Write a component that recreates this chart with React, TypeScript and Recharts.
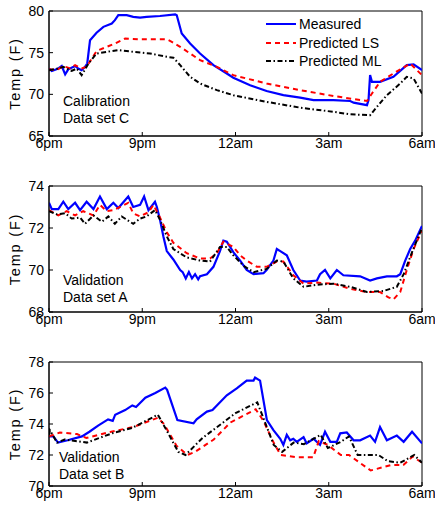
import React from 'react';
import { LineChart, Line, XAxis, YAxis, Legend, ReferenceArea } from 'recharts';

// hours after 6pm, temperature (F)
const timeTicks = [0, 3, 6, 9, 12];
const timeLabels = ['6pm', '9pm', '12am', '3am', '6am'];

const calMeasured: [number, number][] = [
  [0, 73.1], [0.09, 72.8], [0.3, 73.1], [0.41, 73.4], [0.52, 72.4], [0.62, 73.0], [0.84, 73.4],
  [0.94, 73.1], [1.05, 72.9], [1.16, 73.3], [1.23, 73.7], [1.32, 76.5], [1.53, 77.4], [1.75, 78.1],
  [2.02, 78.5], [2.12, 78.9], [2.23, 79.5], [2.5, 79.5], [2.71, 79.3], [2.93, 79.2], [3.14, 79.3],
  [3.57, 79.4], [4.06, 79.6], [4.11, 79.5], [4.27, 77.3], [4.54, 76.1], [4.86, 74.9], [5.29, 73.5],
  [5.72, 72.5], [5.93, 72.0], [6.47, 71.1], [7.0, 70.4], [7.54, 69.9], [8.08, 69.6], [8.51, 69.3],
  [9.15, 69.3], [9.69, 69.2], [9.8, 69.0], [10.23, 68.7], [10.28, 69.3], [10.33, 72.3], [10.39, 71.5],
  [10.65, 71.5], [11.08, 72.1], [11.51, 73.5], [11.73, 73.6], [12, 72.9],
];
const calLS: [number, number][] = [
  [0, 73.0], [0.25, 72.9], [0.46, 73.4], [0.68, 73.1], [0.84, 73.5], [1.05, 73.1], [1.21, 73.3],
  [1.53, 75.2], [1.86, 75.7], [2.12, 76.1], [2.45, 76.7], [2.93, 76.6], [3.79, 76.6], [3.95, 76.3],
  [4.22, 75.7], [4.54, 74.9], [4.86, 74.1], [5.4, 73.3], [5.93, 72.3], [7.0, 71.3], [8.08, 70.5],
  [9.15, 69.8], [10.23, 69.2], [10.39, 70.1], [10.65, 71.5], [11.08, 72.5], [11.62, 73.7], [12, 72.3],
];
const calML: [number, number][] = [
  [0, 72.9], [0.3, 73.1], [0.46, 73.3], [0.73, 72.8], [0.89, 73.1], [1.05, 72.3], [1.27, 73.7],
  [1.53, 74.9], [1.86, 75.1], [2.23, 75.3], [2.71, 75.1], [3.25, 74.9], [3.79, 74.5], [4.0, 74.4],
  [4.22, 73.5], [4.54, 72.1], [4.86, 71.3], [5.4, 70.5], [5.93, 69.9], [7.0, 69.1], [8.08, 68.4],
  [9.15, 67.9], [9.69, 67.6], [10.33, 67.5], [10.55, 68.5], [10.87, 69.9], [11.3, 71.3], [11.51, 72.1],
  [11.73, 71.9], [12, 70.1],
];

const valAMeasured: [number, number][] = [
  [0, 73.2], [0.09, 72.9], [0.3, 72.9], [0.46, 73.25], [0.62, 72.9], [0.84, 73.2], [1.0, 72.85],
  [1.21, 73.25], [1.43, 72.9], [1.64, 73.5], [1.86, 72.9], [2.07, 73.2], [2.23, 72.95], [2.55, 73.5],
  [2.71, 73.0], [2.93, 73.1], [3.06, 73.5], [3.2, 72.85], [3.41, 73.25], [3.47, 73.0], [3.57, 72.4],
  [3.68, 71.6], [3.79, 70.9], [4.0, 70.5], [4.22, 70.0], [4.3, 69.9], [4.4, 69.6], [4.5, 69.9],
  [4.6, 69.6], [4.7, 69.8], [4.8, 69.55], [4.86, 69.7], [5.08, 69.8], [5.29, 70.15], [5.5, 70.9],
  [5.61, 71.4], [5.72, 71.35], [5.93, 70.85], [6.15, 70.45], [6.36, 70.0], [6.58, 69.8], [6.9, 69.85],
  [7.0, 70.0], [7.22, 70.45], [7.33, 71.0], [7.44, 70.9], [7.65, 70.7], [7.86, 70.0], [8.08, 69.5],
  [8.29, 69.45], [8.62, 69.5], [8.72, 69.8], [8.88, 70.0], [9.05, 69.6], [9.26, 70.0], [9.47, 69.75],
  [10.01, 69.7], [10.33, 69.5], [10.55, 69.6], [10.87, 69.7], [11.19, 69.7], [11.3, 69.8],
  [11.46, 70.45], [11.62, 71.0], [11.78, 71.4], [12, 72.1],
];
const valALS: [number, number][] = [
  [0, 72.85], [0.3, 72.6], [0.57, 72.8], [0.84, 72.6], [1.1, 72.8], [1.43, 72.6], [1.64, 73.1],
  [1.86, 72.8], [2.07, 72.85], [2.28, 73.0], [2.55, 73.2], [2.71, 72.7], [2.93, 72.55], [3.2, 72.75],
  [3.36, 73.1], [3.57, 72.5], [3.79, 71.8], [4.0, 71.3], [4.43, 70.8], [4.86, 70.55], [5.18, 70.55],
  [5.4, 70.8], [5.61, 71.35], [5.93, 71.1], [6.15, 70.7], [6.36, 70.45], [6.69, 70.15], [7.0, 70.15],
  [7.33, 70.4], [7.54, 70.4], [7.86, 69.75], [8.19, 69.35], [8.62, 69.4], [9.15, 69.35], [9.69, 69.1],
  [10.23, 68.95], [10.65, 68.95], [10.92, 68.7], [11.08, 68.6], [11.3, 68.95], [11.51, 70.0],
  [11.73, 71.0], [12, 71.9],
];
const valAML: [number, number][] = [
  [0, 72.8], [0.25, 72.65], [0.52, 72.7], [0.73, 72.45], [1.0, 72.5], [1.16, 72.2], [1.43, 72.6],
  [1.7, 72.3], [1.91, 72.55], [2.12, 72.2], [2.34, 72.55], [2.71, 72.2], [2.93, 72.45], [3.14, 72.55],
  [3.41, 72.85], [3.57, 72.4], [3.79, 71.6], [4.0, 71.0], [4.43, 70.6], [4.86, 70.45], [5.18, 70.4],
  [5.5, 71.1], [5.72, 71.1], [5.93, 70.7], [6.26, 70.2], [6.58, 69.9], [7.0, 70.05], [7.33, 70.45],
  [7.54, 70.4], [7.86, 69.6], [8.19, 69.2], [8.62, 69.3], [9.15, 69.35], [9.69, 69.2], [10.23, 68.95],
  [10.76, 69.0], [11.19, 69.2], [11.41, 69.8], [11.68, 70.85], [12, 72.0],
];

const valBMeasured: [number, number][] = [
  [0, 73.2], [0.14, 73.2], [0.29, 72.8], [0.6, 72.95], [1.06, 73.2], [1.3, 73.5], [1.58, 73.9],
  [1.9, 74.3], [2.05, 74.2], [2.13, 74.6], [2.45, 74.9], [2.68, 75.2], [2.8, 75.1], [3.1, 75.7],
  [3.42, 76.0], [3.74, 76.35], [3.8, 76.2], [4.13, 74.25], [4.65, 74.05], [4.75, 74.3], [5.08, 74.8],
  [5.26, 74.9], [5.4, 75.2], [5.72, 75.85], [6.04, 76.3], [6.36, 76.8], [6.58, 76.8], [6.63, 77.0],
  [6.79, 76.8], [7.01, 74.25], [7.22, 73.6], [7.44, 73.05], [7.54, 72.65], [7.65, 73.3], [7.76, 72.95],
  [7.86, 73.05], [7.97, 72.85], [8.19, 73.15], [8.29, 72.75], [8.51, 73.05], [8.72, 72.65], [8.88, 73.5],
  [9.05, 72.85], [9.26, 72.85], [9.37, 73.4], [9.58, 73.45], [9.8, 72.95], [10.01, 72.95], [10.33, 73.25],
  [10.49, 72.85], [10.65, 73.8], [10.87, 72.95], [11.19, 73.25], [11.41, 72.85], [11.68, 73.5], [12, 72.75],
];
const valBLS: [number, number][] = [
  [0, 73.2], [0.35, 73.45], [0.9, 73.35], [1.2, 73.1], [2.0, 73.5], [2.7, 73.8], [3.5, 74.4],
  [3.7, 74.0], [4.1, 72.6], [4.45, 72.0], [4.7, 72.2], [5.3, 73.0], [5.84, 74.1], [6.65, 74.95],
  [6.9, 74.2], [7.2, 72.9], [7.45, 72.0], [8.0, 71.85], [8.5, 71.85], [8.68, 72.9], [8.97, 72.65],
  [9.39, 72.0], [9.65, 72.0], [10.35, 71.0], [11.0, 71.35], [11.4, 71.35], [11.7, 71.9], [12, 71.5],
];
const valBML: [number, number][] = [
  [0, 73.3], [0.03, 73.6], [0.26, 72.8], [0.5, 73.0], [1.06, 72.85], [1.22, 72.8], [2.03, 73.4],
  [2.68, 73.75], [3.5, 74.6], [3.63, 74.15], [4.16, 72.2], [4.39, 72.0], [4.94, 73.1], [6.0, 74.7],
  [6.7, 75.4], [7.23, 72.65], [7.5, 72.2], [7.87, 72.8], [8.2, 72.7], [8.74, 73.3], [8.97, 72.45],
  [9.39, 72.85], [9.65, 73.2], [9.93, 72.0], [10.35, 72.0], [10.6, 72.0], [10.9, 71.6], [11.3, 71.5],
  [11.75, 72.0], [12, 71.5],
];

const seriesNames = ['Measured', 'Predicted LS', 'Predicted ML'];
const seriesColors = ['#0000ff', '#ff0000', '#000000'];
const seriesDash = ['', '5 4', '5 2.5 1.5 2.5'];

const toPts = (arr: [number, number][]) => arr.map(([h, t]) => ({ h, t }));

const FONT = '"Liberation Sans", Arial, sans-serif';

function LegendBox({ payload }: any) {
  return (
    <div style={{ fontFamily: FONT, fontSize: 14, color: '#000' }}>
      {(payload || []).map((e: any) => {
        const i = seriesNames.indexOf(e.value);
        return (
          <div key={e.value} style={{ display: 'flex', alignItems: 'center', height: 18.5 }}>
            <svg width={30} height={4} style={{ marginRight: 3 }}>
              <line x1={0} y1={2} x2={30} y2={2} stroke={seriesColors[i]} strokeWidth={2} strokeDasharray={seriesDash[i]} />
            </svg>
            <span>{e.value}</span>
          </div>
        );
      })}
    </div>
  );
}

interface PanelProps {
  top: number;
  height: number;
  mTop: number;
  mBottom: number;
  xHeight: number;
  yDomain: [number, number];
  yTicks: number[];
  series: [number, number][][];
  note: string[];
  noteX: number;
  noteY: number;
  legend?: boolean;
}

const blank = () => '';

function Panel(p: PanelProps) {
  return (
    <div style={{ position: 'absolute', left: 0, top: p.top, width: 435, height: p.height }}>
      <LineChart width={435} height={p.height} margin={{ top: p.mTop, right: 13, bottom: p.mBottom, left: 0 }}>
        <XAxis
          dataKey="h"
          type="number"
          domain={[0, 12]}
          ticks={timeTicks}
          interval={0}
          tickFormatter={(v: number) => timeLabels[timeTicks.indexOf(v)]}
          height={p.xHeight}
          tickLine={{ stroke: '#000' }}
          tickSize={-4}
          tickMargin={6}
          axisLine={{ stroke: '#000' }}
          tick={{ fontSize: 14, fill: '#000' }}
          allowDataOverflow
        />
        <XAxis
          xAxisId="top"
          orientation="top"
          type="number"
          domain={[0, 12]}
          ticks={timeTicks}
          interval={0}
          tickFormatter={blank}
          height={0}
          tickLine={{ stroke: '#000' }}
          tickSize={-4}
          axisLine={false}
          allowDataOverflow
        />
        <YAxis
          type="number"
          domain={p.yDomain}
          ticks={p.yTicks}
          interval={0}
          width={49}
          tickLine={{ stroke: '#000' }}
          tickSize={-4}
          tickMargin={9}
          axisLine={{ stroke: '#000' }}
          tick={{ fontSize: 14, fill: '#000' }}
          allowDataOverflow
          label={{
            value: 'Temp (F)',
            angle: -90,
            position: 'center',
            dx: -9.5,
            style: { fontSize: 14.5, letterSpacing: 1.8, fill: '#000' },
          }}
        />
        <YAxis
          yAxisId="right"
          orientation="right"
          type="number"
          domain={p.yDomain}
          ticks={p.yTicks}
          interval={0}
          width={0}
          tickFormatter={blank}
          tickLine={{ stroke: '#000' }}
          tickSize={-4}
          axisLine={false}
          allowDataOverflow
        />
        <ReferenceArea x1={0} x2={12} y1={p.yDomain[0]} y2={p.yDomain[1]} fill="none" stroke="#000" strokeWidth={1} />
        {p.series.map((s, i) => (
          <Line
            key={seriesNames[i]}
            name={seriesNames[i]}
            data={toPts(s)}
            dataKey="t"
            type="linear"
            stroke={seriesColors[i]}
            strokeWidth={i === 0 ? 2.2 : 2}
            strokeDasharray={seriesDash[i] || undefined}
            dot={false}
            activeDot={false}
            isAnimationActive={false}
          />
        ))}
        {p.legend && (
          <Legend
            layout="vertical"
            align="center"
            verticalAlign="middle"
            content={<LegendBox />}
            wrapperStyle={{ top: 15, left: 266, width: 160, height: 56 }}
          />
        )}
      </LineChart>
      <div
        style={{
          position: 'absolute',
          left: p.noteX,
          top: p.noteY,
          fontFamily: FONT,
          fontSize: 14,
          lineHeight: '17px',
          color: '#000',
          whiteSpace: 'nowrap',
        }}
      >
        {p.note.map((l) => (
          <div key={l}>{l}</div>
        ))}
      </div>
    </div>
  );
}

export default function App() {
  return (
    <div style={{ position: 'absolute', left: 0, top: 0, width: 435, height: 508, background: '#fff', fontFamily: FONT }}>
      <Panel
        top={0}
        height={170}
        mTop={11}
        mBottom={4}
        xHeight={30}
        yDomain={[65, 80]}
        yTicks={[65, 70, 75, 80]}
        series={[calMeasured, calLS, calML]}
        note={['Calibration', 'Data set C']}
        noteX={63}
        noteY={93}
        legend
      />
      <Panel
        top={175}
        height={170}
        mTop={11}
        mBottom={3}
        xHeight={30}
        yDomain={[68, 74]}
        yTicks={[68, 70, 72, 74]}
        series={[valAMeasured, valALS, valAML]}
        note={['Validation', 'Data set A']}
        noteX={63}
        noteY={272 - 175}
      />
      <Panel
        top={350}
        height={158}
        mTop={12}
        mBottom={2}
        xHeight={20}
        yDomain={[70, 78]}
        yTicks={[70, 72, 74, 76, 78]}
        series={[valBMeasured, valBLS, valBML]}
        note={['Validation', 'Data set B']}
        noteX={59}
        noteY={449 - 350}
      />
    </div>
  );
}
